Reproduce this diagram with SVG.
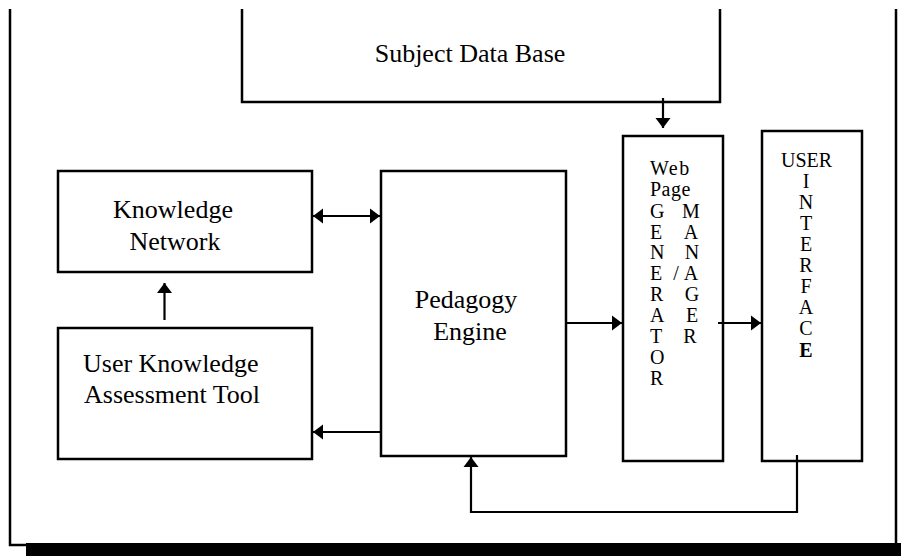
<svg xmlns="http://www.w3.org/2000/svg" width="901" height="556" viewBox="0 0 901 556">
<defs>
<style>
.box{fill:#fff;stroke:#000;stroke-width:2.5}
.frame{fill:none;stroke:#000;stroke-width:2.5}
.con{fill:none;stroke:#000;stroke-width:2.2}
.t{font-family:"Liberation Serif","Times New Roman",serif;font-size:26px;fill:#000}
.s{font-family:"Liberation Serif","Times New Roman",serif;font-size:20px;fill:#000}
.m{text-anchor:middle}
</style>
<marker id="ah" markerUnits="userSpaceOnUse" markerWidth="12" markerHeight="16" refX="10" refY="7.5" orient="auto-start-reverse" viewBox="0 0 12 15">
<path d="M0,0 L10,7.5 L0,15 Z" fill="#000"/>
</marker>
</defs>
<rect width="901" height="556" fill="#fff"/>
<g id="frame">
<path class="frame" d="M10,9 V545 H30"/>
<line class="frame" x1="896" y1="9" x2="896" y2="544"/>
<rect x="26" y="543" width="875" height="13" fill="#000"/>
</g>
<g id="subject-data-base">
<path class="frame" d="M242,9 V102 H720 V9"/>
<text class="t m" x="470" y="62">Subject Data Base</text>
</g>
<g id="knowledge-network">
<rect class="box" x="58" y="171" width="254" height="101"/>
<text class="t m" x="173" y="218">Knowledge</text>
<text class="t m" x="175" y="250">Network</text>
</g>
<g id="user-knowledge-assessment-tool">
<rect class="box" x="58" y="328" width="254" height="131"/>
<text class="t" x="83" y="372">User Knowledge</text>
<text class="t" x="84" y="403">Assessment Tool</text>
</g>
<g id="pedagogy-engine">
<rect class="box" x="381" y="171" width="185" height="285"/>
<text class="t m" x="466" y="308">Pedagogy</text>
<text class="t m" x="470" y="340">Engine</text>
</g>
<g id="web-page-generator-manager">
<rect class="box" x="623" y="136" width="100" height="325"/>
<text class="s" x="650" y="175" letter-spacing="1.5">Web</text>
<text class="s" x="650" y="196" letter-spacing="0.5">Page</text>
<text class="s" x="650" y="218">G</text>
<text class="s" x="650" y="239">E</text>
<text class="s" x="650" y="259">N</text>
<text class="s" x="650" y="280">E</text>
<text class="s" x="650" y="301">R</text>
<text class="s" x="650" y="322">A</text>
<text class="s" x="650" y="343">T</text>
<text class="s" x="650" y="364">O</text>
<text class="s" x="650" y="385">R</text>
<text class="s m" x="691" y="218">M</text>
<text class="s m" x="691" y="239">A</text>
<text class="s m" x="692" y="259">N</text>
<text class="s m" x="676" y="280">/</text>
<text class="s m" x="691" y="280">A</text>
<text class="s m" x="692" y="301">G</text>
<text class="s m" x="692" y="322">E</text>
<text class="s m" x="690" y="343">R</text>
</g>
<g id="user-interface">
<rect class="box" x="762" y="131" width="100" height="330"/>
<text class="s" x="781" y="167">USER</text>
<text class="s m" x="806" y="188">I</text>
<text class="s m" x="806" y="209">N</text>
<text class="s m" x="806" y="230">T</text>
<text class="s m" x="806" y="251">E</text>
<text class="s m" x="806" y="272">R</text>
<text class="s m" x="806" y="293">F</text>
<text class="s m" x="806" y="314">A</text>
<text class="s m" x="806" y="335">C</text>
<text class="s m" x="806" y="357" font-weight="bold">E</text>
</g>
<g id="connectors">
<line class="con" x1="663" y1="98" x2="663" y2="128" marker-end="url(#ah)"/>
<line class="con" x1="313" y1="216" x2="380" y2="216" marker-start="url(#ah)" marker-end="url(#ah)"/>
<line class="con" x1="381" y1="432" x2="313" y2="432" marker-end="url(#ah)"/>
<line class="con" x1="164.5" y1="320" x2="164.5" y2="283" marker-end="url(#ah)"/>
<line class="con" x1="566" y1="323" x2="622" y2="323" marker-end="url(#ah)"/>
<line class="con" x1="718" y1="323" x2="761" y2="323" marker-end="url(#ah)"/>
<path class="con" d="M797,455 V512 H471 V457" stroke-width="2" marker-end="url(#ah)"/>
</g>
</svg>
